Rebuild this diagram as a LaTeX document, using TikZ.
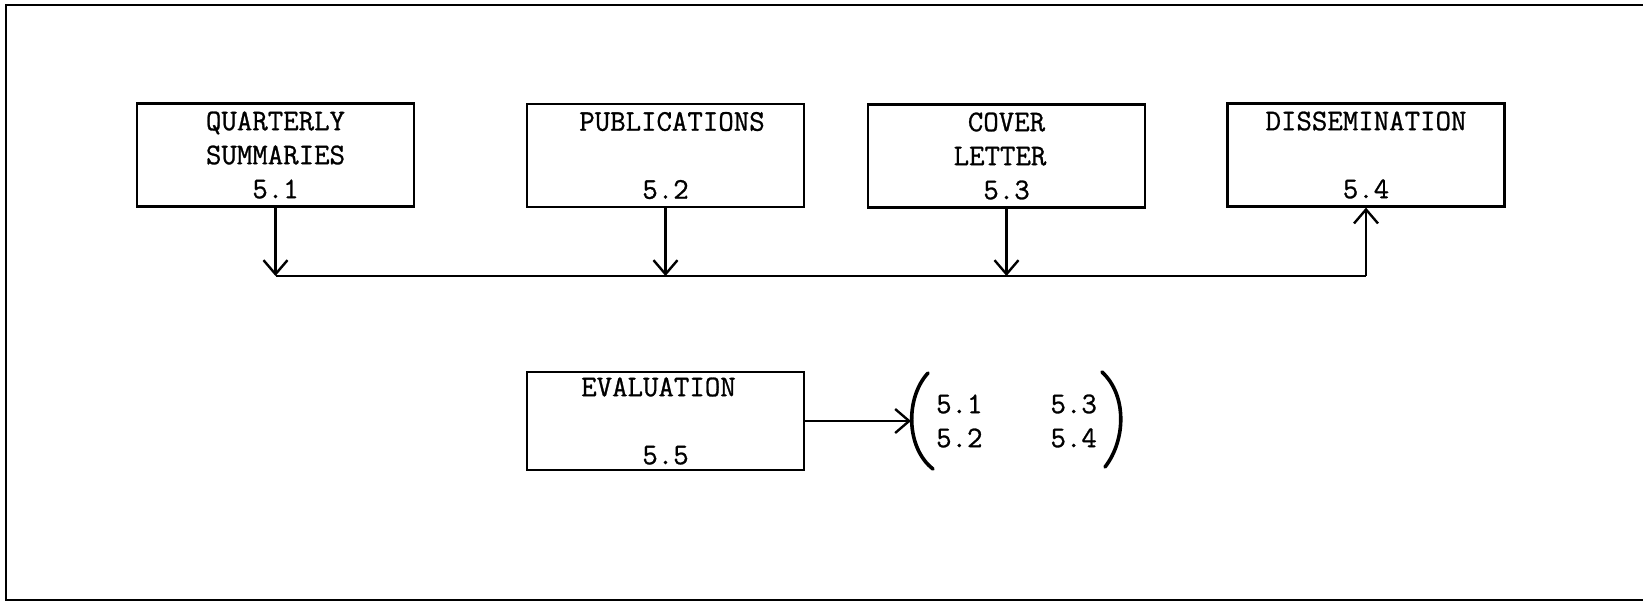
\documentclass[tikz,border=0pt]{standalone}
\usepackage{fontspec}
\newfontfamily\typewriter{Latin Modern Mono}[FakeBold=0.9]
\usetikzlibrary{arrows.meta}
\begin{document}
\begin{tikzpicture}[x=0.5pt,y=-0.5pt,
  typed/.style={font=\typewriter\fontsize{15}{17}\selectfont},
  box/.style={typed, draw, line width=1.1pt, minimum width=138.5pt,
    minimum height=51.5pt, inner sep=0pt, align=center},
  wire/.style={line width=1.1pt},
  arr/.style={wire, -{Straight Barb[length=7pt,width=12pt,line width=1.2pt]}},
  paren/.style={line width=1.8pt, line cap=round}]
\useasboundingbox (0,0) rectangle (1643,602);

% page frame, open on the right
\draw[wire] (1643,5) -- (6,5) -- (6,600) -- (1643,600);

% task boxes
\node[box] (qs)  at (275.5,155)  {QUARTERLY\\SUMMARIES\\5.1};
\node[box] (pub) at (665.5,155.5) {\kern6.5pt PUBLICATIONS\\\mbox{}\\5.2};
\node[box] (cov) at (1006.5,156) {COVER\\LETTER\kern6.5pt\\5.3};
\node[box] (dis) at (1366,155)   {DISSEMINATION\\\mbox{}\\5.4};
\node[box, minimum height=49pt] (eva) at (665.5,421) {EVALUATION\kern7pt\\\mbox{}\\5.5};

% common bus feeding dissemination
\coordinate (bus) at (0,276);
\draw[arr] (qs.south)  -- (qs.south |- bus);
\draw[arr] (pub.south) -- (pub.south |- bus);
\draw[arr] (cov.south) -- (cov.south |- bus);
\draw[wire] (qs.south |- bus) -- (dis.south |- bus);
\draw[arr] (dis.south |- bus) -- (dis.south);

% evaluation covers all four tasks
\node[typed, inner sep=0pt, align=left] (refs) at (1016.5,421)
  {5.1\hspace{34pt}5.3\\5.2\hspace{34pt}5.4};
\coordinate (lp) at (911,421);
\draw[arr] (eva.east) -- (lp);
\draw[paren] (928,373) .. controls (905,398) and (906,448) .. (933,469);
\draw[paren] (1102,372) .. controls (1127,395) and (1126,440) .. (1105,467);
\end{tikzpicture}
\end{document}
